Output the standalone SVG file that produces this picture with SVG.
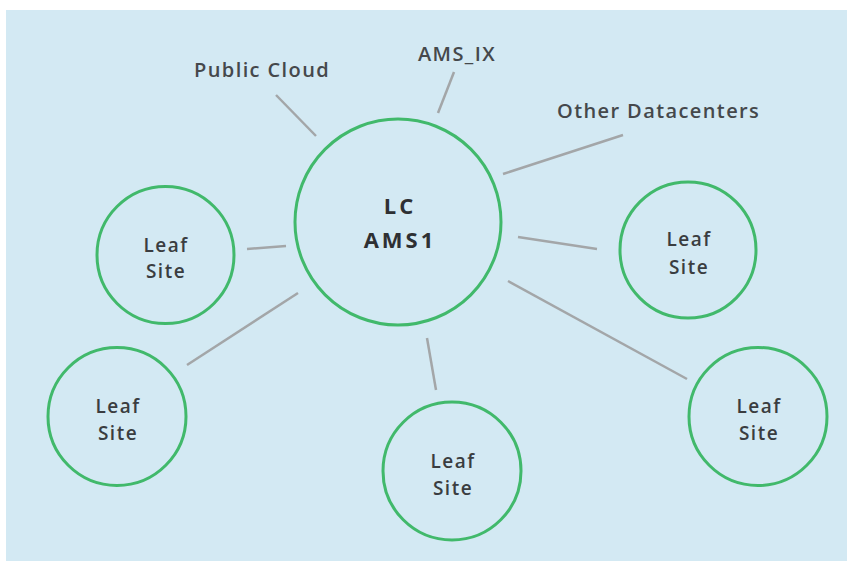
<svg xmlns="http://www.w3.org/2000/svg" width="847" height="561" viewBox="0 0 847 561">
<style>
.node{fill:none;stroke:#41b96b;stroke-width:3}
.conn line{stroke:#a3a6a8;stroke-width:2.5;stroke-linecap:butt}
.leaf{font-family:"Open Sans","Liberation Sans",sans-serif;font-weight:600;font-size:19px;fill:#3a3d40;text-anchor:middle;letter-spacing:1.5px}
.main{font-family:"Open Sans","Liberation Sans",sans-serif;font-weight:700;font-size:22px;fill:#2e3033;text-anchor:middle;letter-spacing:3px}
.lbl{font-family:"Open Sans","Liberation Sans",sans-serif;font-weight:600;font-size:20px;fill:#45484b;letter-spacing:1.4px}
</style>
<rect x="0" y="0" width="847" height="561" fill="#ffffff"/>
<rect x="6" y="10" width="841" height="551" fill="#d3e9f3"/>
<g id="connectors" class="conn">
<line x1="276" y1="95" x2="316" y2="136"/>
<line x1="454" y1="72" x2="438" y2="113"/>
<line x1="623" y1="135" x2="503" y2="174"/>
<line x1="247" y1="249" x2="286" y2="246"/>
<line x1="187" y1="365" x2="298" y2="293"/>
<line x1="427" y1="338" x2="436" y2="390"/>
<line x1="518" y1="237" x2="597" y2="249"/>
<line x1="508" y1="281" x2="687" y2="379"/>
</g>
<g id="label-public-cloud"><text class="lbl" x="194" y="77">Public Cloud</text></g>
<g id="label-ams-ix"><text class="lbl" x="418" y="61">AMS_IX</text></g>
<g id="label-other-dc"><text class="lbl" x="557" y="118">Other Datacenters</text></g>
<g id="lc-ams1">
<circle class="node" cx="398" cy="222" r="103"/>
<text class="main" x="400" y="214">LC</text>
<text class="main" x="400" y="248">AMS1</text>
</g>
<g id="leaf-left">
<circle class="node" cx="165.5" cy="255" r="68.5"/>
<text class="leaf" x="166" y="252">Leaf</text>
<text class="leaf" x="166" y="278">Site</text>
</g>
<g id="leaf-right">
<circle class="node" cx="688" cy="250" r="68"/>
<text class="leaf" x="689" y="246">Leaf</text>
<text class="leaf" x="689" y="274">Site</text>
</g>
<g id="leaf-bottom-left">
<circle class="node" cx="117" cy="416.5" r="69"/>
<text class="leaf" x="118" y="413">Leaf</text>
<text class="leaf" x="118" y="440">Site</text>
</g>
<g id="leaf-bottom-center">
<circle class="node" cx="452" cy="471" r="69"/>
<text class="leaf" x="453" y="468">Leaf</text>
<text class="leaf" x="453" y="495">Site</text>
</g>
<g id="leaf-bottom-right">
<circle class="node" cx="758" cy="416.5" r="69"/>
<text class="leaf" x="759" y="413">Leaf</text>
<text class="leaf" x="759" y="440">Site</text>
</g>
</svg>
